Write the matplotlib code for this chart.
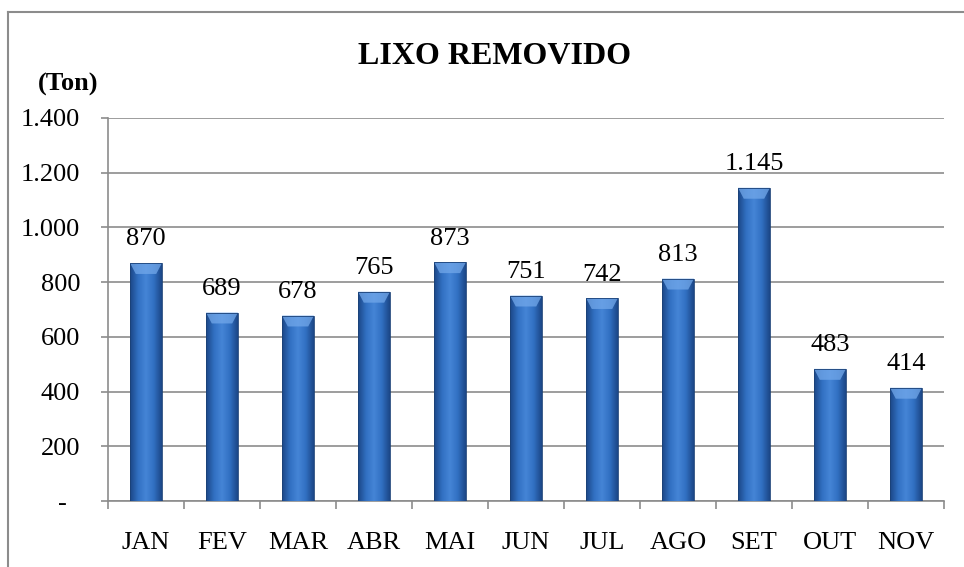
import numpy as np
import matplotlib.pyplot as plt
from matplotlib.colors import LinearSegmentedColormap
from matplotlib.patches import Rectangle, Polygon

meses = ['JAN', 'FEV', 'MAR', 'ABR', 'MAI', 'JUN', 'JUL', 'AGO', 'SET', 'OUT', 'NOV']
lixo = [870, 689, 678, 765, 873, 751, 742, 813, 1145, 483, 414]
yticks = [0, 200, 400, 600, 800, 1000, 1200, 1400]
ytick_labels = ['-  ', '200', '400', '600', '800', '1.000', '1.200', '1.400']


def fmt(v):
    return f'{v:,}'.replace(',', '.')


plt.rcParams['font.family'] = ['Liberation Serif', 'DejaVu Serif']
fig = plt.figure(figsize=(9.64, 5.67), dpi=100)
ax = fig.add_axes([108 / 964, 1 - 501 / 567, (944 - 108) / 964, (501 - 118) / 567])

x = np.arange(len(meses))
bars = ax.bar(x, lixo, width=0.42, color='#2F69B8', zorder=2)

# horizontal gradient with a lighter bevel on top of each bar
cmap = LinearSegmentedColormap.from_list(
    'barra', ['#1C4787', '#3170C2', '#4585D6', '#3170C2', '#1C4787'])
grad = np.linspace(0, 1, 64).reshape(1, -1)
for b in bars:
    x0, w, h = b.get_x(), b.get_width(), b.get_height()
    im = ax.imshow(grad, cmap=cmap, aspect='auto', extent=[x0, x0 + w, 0, h], zorder=3)
    im.set_clip_path(b)
    cap = 40
    ax.add_patch(Polygon([[x0, h], [x0 + w, h], [x0 + w * 0.82, h - cap],
                          [x0 + w * 0.18, h - cap]], closed=True,
                         facecolor='#72A8EA', edgecolor='none', alpha=0.75, zorder=4))
    ax.add_patch(Rectangle((x0, 0), w, h, fill=False, edgecolor='#1B4177',
                           linewidth=0.6, zorder=5))
    ax.annotate(fmt(int(h)), (x0 + w / 2, h), xytext=(0, 9), textcoords='offset points',
                ha='center', va='bottom', fontsize=19, zorder=6)

ax.set_xlim(-0.5, len(meses) - 0.5)
ax.set_ylim(0, 1400)
ax.set_yticks(yticks)
ax.set_yticklabels(ytick_labels, fontsize=19)
ax.yaxis.grid(True, color='#8C8C8C', linewidth=1.2, zorder=0)
ax.set_axisbelow(True)

ax.set_xticks(x)
ax.set_xticklabels(meses, fontsize=19)
ax.tick_params(axis='x', length=0, pad=22)
ax.set_xticks(np.arange(len(meses) + 1) - 0.5, minor=True)
ax.tick_params(axis='x', which='minor', length=6, color='#8C8C8C', width=1.2)
ax.tick_params(axis='y', length=5, color='#8C8C8C', width=1.2, pad=15)

for s in ['top', 'right']:
    ax.spines[s].set_visible(False)
for s in ['left', 'bottom']:
    ax.spines[s].set_color('#8C8C8C')
    ax.spines[s].set_linewidth(1.2)

fig.text(495 / 964, 1 - 56 / 567, 'LIXO REMOVIDO', ha='center', va='center',
         fontsize=23, fontweight='bold')
fig.text(68 / 964, 1 - 84 / 567, '(Ton)', ha='center', va='center',
         fontsize=19, fontweight='bold')

# outer frame of the chart area
fig.add_artist(plt.Line2D([8 / 964, 8 / 964], [0, 1 - 12 / 567], transform=fig.transFigure,
                          color='#8C8C8C', linewidth=1.5))
fig.add_artist(plt.Line2D([8 / 964, 1], [1 - 12 / 567, 1 - 12 / 567], transform=fig.transFigure,
                          color='#8C8C8C', linewidth=1.5))

fig.savefig('out.png', dpi=100)
